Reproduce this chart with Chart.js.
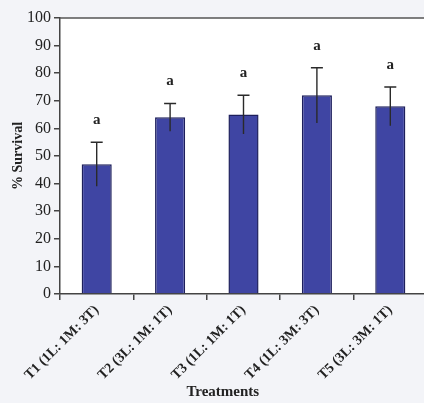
<!DOCTYPE html>
<html>
<head>
<meta charset="utf-8">
<script src="https://cdn.jsdelivr.net/npm/chart.js@4.4.1/dist/chart.umd.min.js"></script>
<style>
    html, body { margin: 0; padding: 0; background: #f3f4f8; overflow: hidden; }
    #wrap { width: 424px; height: 403px; overflow: hidden; position: relative; }
    #myChart { position: absolute; left: 0; top: 0; }
</style>
</head>
<body>
<div id="wrap"><canvas id="myChart" width="432" height="403"></canvas></div>
<script>
const labels = [
    'T1 (1L: 1M: 3T)',
    'T2 (3L: 1M: 1T)',
    'T3 (1L: 1M: 1T)',
    'T4 (1L: 3M: 3T)',
    'T5 (3L: 3M: 1T)'
];
const survival = [47, 64, 65, 72, 68];
const errors = [8, 5, 7, 10, 7];
const letters = ['a', 'a', 'a', 'a', 'a'];
const yTicks = [0, 10, 20, 30, 40, 50, 60, 70, 80, 90, 100];

const serif = '"Liberation Serif", "Times New Roman", serif';

// error bars, letters, top frame line and the x title
const extras = {
    id: 'extras',
    afterDatasetsDraw(chart) {
        const ctx = chart.ctx;
        const y = chart.scales.y;
        const meta = chart.getDatasetMeta(0);
        const area = chart.chartArea;
        ctx.save();
        // frame line on top
        ctx.strokeStyle = '#555';
        ctx.lineWidth = 1.5;
        ctx.beginPath();
        ctx.moveTo(area.left, area.top);
        ctx.lineTo(area.right, area.top);
        ctx.stroke();

        ctx.strokeStyle = '#2a2a2a';
        ctx.lineWidth = 1.4;
        meta.data.forEach((bar, i) => {
            const top = y.getPixelForValue(survival[i] + errors[i]);
            const bot = y.getPixelForValue(survival[i] - errors[i]);
            ctx.beginPath();
            ctx.moveTo(bar.x, top);
            ctx.lineTo(bar.x, bot);
            ctx.moveTo(bar.x - 6, top);
            ctx.lineTo(bar.x + 6, top);
            ctx.stroke();

            ctx.fillStyle = '#222';
            ctx.font = 'bold 15px ' + serif;
            ctx.textAlign = 'center';
            ctx.textBaseline = 'middle';
            ctx.fillText(letters[i], bar.x, top - 22);
        });

        ctx.fillStyle = '#222';
        ctx.font = 'bold 15px ' + serif;
        ctx.textAlign = 'center';
        ctx.textBaseline = 'middle';
        ctx.fillText('Treatments', (meta.data[1].x + meta.data[2].x) / 2 + 16, 392);
        ctx.restore();
    }
};

const data = {
    labels: labels,
    datasets: [
        {
            data: survival,
            backgroundColor: '#3f45a3',
            borderColor: '#1d1f5c',
            borderWidth: 1.5,
            barPercentage: 0.41,
            categoryPercentage: 1
        }
    ]
};

const config = {
    type: 'bar',
    data: data,
    plugins: [extras, {
        id: 'plotBg',
        beforeDraw(chart) {
            const a = chart.chartArea;
            chart.ctx.save();
            chart.ctx.fillStyle = '#ffffff';
            chart.ctx.fillRect(a.left, a.top, a.right - a.left, a.bottom - a.top);
            chart.ctx.restore();
        }
    }],
    options: {
        responsive: false,
        animation: false,
        layout: {
            padding: { top: 18, right: 5, left: 0, bottom: 0 }
        },
        scales: {
            x: {
                afterFit(scale) { scale.height = 109; },
                grid: {
                    display: true,
                    drawOnChartArea: false,
                    offset: true,
                    tickLength: 6,
                    color: '#444',
                    lineWidth: 1.5
                },
                border: { color: '#444', width: 1.5 },
                ticks: {
                    maxRotation: 45,
                    minRotation: 45,
                    color: '#222',
                    padding: 2,
                    font: { family: serif, size: 14, weight: 'bold' }
                },
                title: { display: false }
            },
            y: {
                min: 0,
                max: 100,
                afterFit(scale) { scale.width = 60; },
                afterBuildTicks(scale) {
                    scale.ticks = yTicks.map(v => ({ value: v }));
                },
                grid: {
                    display: true,
                    drawOnChartArea: false,
                    tickLength: 6,
                    color: '#444',
                    lineWidth: 1.5
                },
                border: { color: '#444', width: 1.5 },
                ticks: {
                    color: '#222',
                    padding: 3,
                    font: { family: serif, size: 16 }
                },
                title: {
                    display: true,
                    text: '% Survival',
                    color: '#222',
                    padding: { top: 10, bottom: 0 },
                    font: { family: serif, size: 14, weight: 'bold' }
                }
            }
        },
        plugins: {
            legend: { display: false },
            tooltip: { enabled: false }
        }
    }
};

const myChart = new Chart(
    document.getElementById('myChart'),
    config
);
</script>
</body>
</html>
